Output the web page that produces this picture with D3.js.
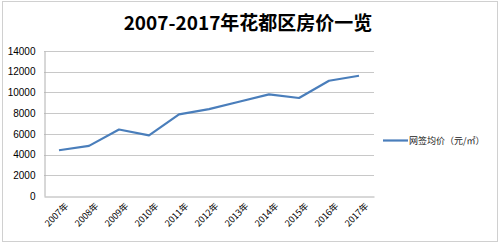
<!DOCTYPE html>
<html><head><meta charset="utf-8">
<script src="https://cdn.jsdelivr.net/npm/d3@7"></script>
<style>body{margin:0;background:#fff}svg{display:block}</style>
</head><body>
<svg id="c" width="500" height="244"></svg>
<script>
const categories = ["2007年","2008年","2009年","2010年","2011年","2012年","2013年","2014年","2015年","2016年","2017年"];
const prices = [4420, 4840, 6420, 5850, 7880, 8390, 9100, 9810, 9460, 11130, 11610];
const yTicks = [0, 2000, 4000, 6000, 8000, 10000, 12000, 14000];
const seriesName = "网签均价（元/㎡）";
const title = "2007-2017年花都区房价一览";

const font = "'Noto Sans CJK SC', 'Noto Sans', sans-serif";
const svg = d3.select("#c");
svg.append("rect").attr("x",2.5).attr("y",1.5).attr("width",495).attr("height",240)
  .attr("fill","#fff").attr("stroke","#d0d0d0");

svg.append("text").attr("x",248).attr("y",30).attr("text-anchor","middle")
  .attr("font-family",font).attr("font-weight","bold").attr("font-size",19)
  .attr("fill","#000").text(title);

const L=44, R=374, T=51, B=196;
const x = d3.scaleBand().domain(categories).range([L,R]);
const y = d3.scaleLinear().domain([0,14000]).range([B,T]);

// gridlines
svg.append("g").selectAll("line").data(yTicks.filter(d=>d>0)).join("line")
  .attr("x1",L).attr("x2",R).attr("y1",d=>Math.round(y(d))+0.5).attr("y2",d=>Math.round(y(d))+0.5)
  .attr("stroke","#c8c8c8").attr("stroke-width",1);

// y axis
const ya = svg.append("g").attr("transform",`translate(${L+0.5},0)`)
  .call(d3.axisLeft(y).tickValues(yTicks).tickSize(0).tickPadding(9).tickFormat(d3.format("d")));
ya.select(".domain").attr("stroke","#b0b0b0");
ya.selectAll("text").attr("font-family","'Liberation Sans', Arial, sans-serif").attr("font-size",10).attr("fill","#000");

// x axis
const xa = svg.append("g").attr("transform",`translate(0,${B+0.5})`)
  .call(d3.axisBottom(x).tickSize(0).tickPadding(6));
xa.select(".domain").attr("stroke","#b0b0b0");
xa.selectAll("text").attr("font-family",font).attr("font-size",9).attr("fill","#000")
  .attr("text-anchor","end").attr("dy","0.3em")
  .attr("transform", function(){ return "translate(4,4) rotate(-45)"; });

// line
const line = d3.line().x((d,i)=>x(categories[i])+x.bandwidth()/2).y(d=>y(d));
svg.append("path").datum(prices).attr("d",line).attr("fill","none")
  .attr("stroke","#4a7ebb").attr("stroke-width",2.2).attr("stroke-linejoin","round");

// legend
svg.append("line").attr("x1",383).attr("x2",408).attr("y1",140.5).attr("y2",140.5)
  .attr("stroke","#4a7ebb").attr("stroke-width",2.2);
svg.append("text").attr("x",409).attr("y",144).attr("font-family",font).attr("font-size",9)
  .attr("fill","#222").text(seriesName);
</script>
</body></html>
